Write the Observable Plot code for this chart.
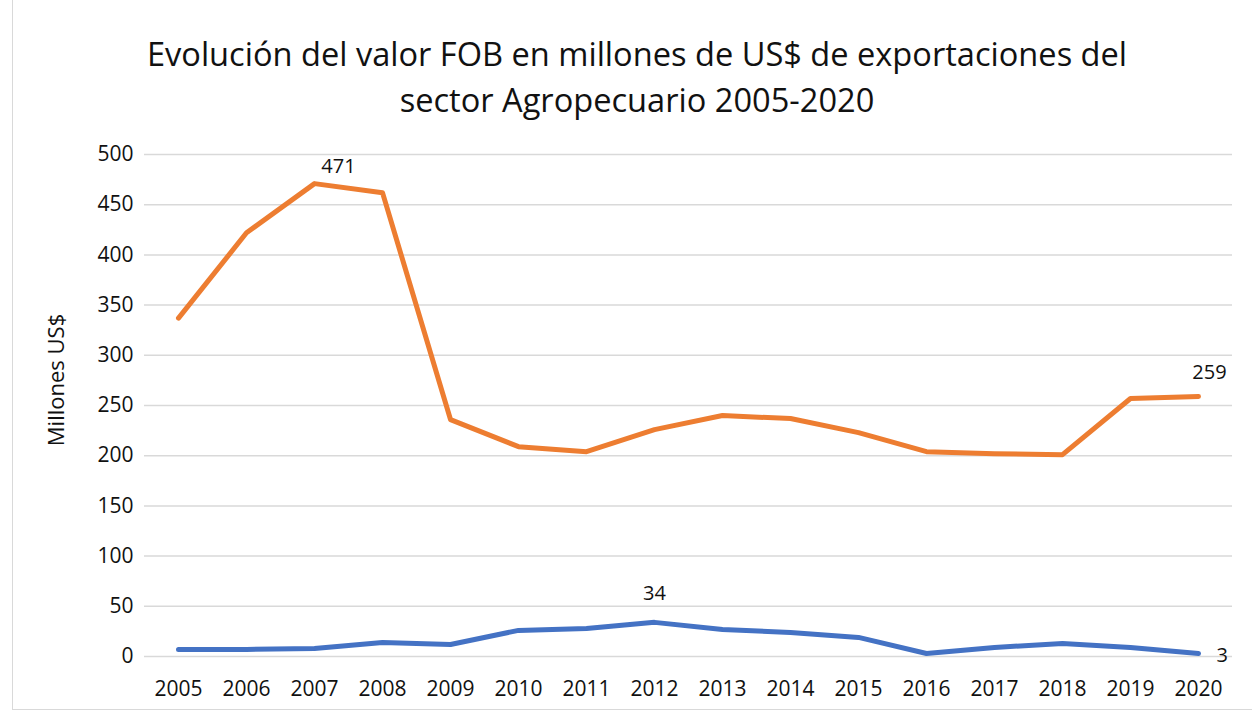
<!DOCTYPE html>
<html><head><meta charset="utf-8">
<script src="https://cdn.jsdelivr.net/npm/d3@7"></script>
<script src="https://cdn.jsdelivr.net/npm/@observablehq/plot@0.6"></script>
<style>
body{margin:0;background:#fff;font-family:"Open Sans","Noto Sans",sans-serif;}
#wrap{position:relative;width:1252px;height:713px;overflow:hidden;}
#frame{position:absolute;left:12px;top:-2px;width:1250px;height:712px;border:1.5px solid #d9d9d9;box-sizing:border-box;pointer-events:none;}
#title{position:absolute;left:0;top:31px;width:1274px;text-align:center;font-size:32.6px;line-height:46px;color:#111;}
#chart{position:absolute;left:0;top:130px;}
</style></head>
<body><div id="wrap"><div id="title">Evolución del valor FOB en millones de US$ de exportaciones del<br>sector Agropecuario 2005-2020</div><div id="chart"></div><div id="frame"></div></div>
<script>
const years = [2005,2006,2007,2008,2009,2010,2011,2012,2013,2014,2015,2016,2017,2018,2019,2020];
const agro = [337,422,471,462,236,209,204,226,240,237,223,204,202,201,257,259];
const other = [7,7,8,14,12,26,28,34,27,24,19,3,9,13,9,3];
const yTicks = [0,50,100,150,200,250,300,350,400,450,500];
const labels = [
  {year:2007, v:471, dx:24, dy:-17, anchor:"middle"},
  {year:2020, v:259, dx:11, dy:-24, anchor:"middle"},
  {year:2012, v:34, dx:0, dy:-29, anchor:"middle"},
  {year:2020, v:3, dx:18, dy:2, anchor:"start"}
];
const dA = years.map((y,i)=>({year:String(y), v:agro[i]}));
const dO = years.map((y,i)=>({year:String(y), v:other[i]}));
const font = '"Open Sans","Noto Sans",sans-serif';
const chart = Plot.plot({
  width:1252, height:583,
  marginLeft:144, marginRight:20, marginTop:24, marginBottom:57,
  style:{fontFamily:font, fontSize:"21px", color:"#222", background:"transparent"},
  x:{type:"point", domain:years.map(String), padding:0.5, label:null},
  y:{domain:[0,500], label:null},
  marks:[
    Plot.gridY(yTicks,{stroke:"#d9d9d9", strokeOpacity:1, strokeWidth:1.5}),
    Plot.axisX({tickSize:0, tickPadding:25, fontSize:21, fill:"#111"}),
    Plot.axisY(yTicks,{tickSize:0, tickPadding:11, fontSize:21, fill:"#111"}),
    Plot.line(dA,{x:"year", y:"v", stroke:"#ED7D31", strokeWidth:5, strokeLinecap:"round", strokeLinejoin:"round"}),
    Plot.line(dO,{x:"year", y:"v", stroke:"#4472C4", strokeWidth:5, strokeLinecap:"round", strokeLinejoin:"round"}),
    ...labels.map(l=>Plot.text([l],{x:d=>String(d.year), y:"v", text:d=>String(d.v), dx:l.dx, dy:l.dy, textAnchor:l.anchor, fontSize:20, fill:"#111"}))
  ]
});
document.getElementById("chart").appendChild(chart);
const svg = d3.select(chart);
svg.append("text").attr("transform","translate(64,250) rotate(-90)").attr("text-anchor","middle")
  .attr("font-size",22).attr("fill","#111").attr("font-family",font).text("Millones US$");
</script></body></html>
